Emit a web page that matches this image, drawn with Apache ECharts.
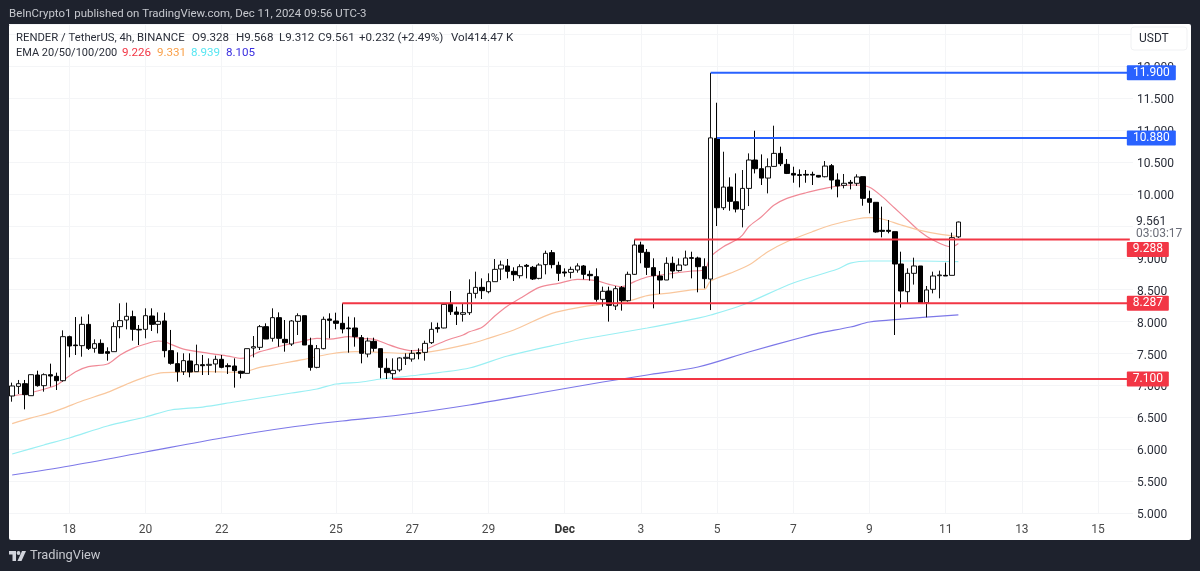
<!DOCTYPE html>
<html><head><meta charset="utf-8">
<style>html,body{margin:0;padding:0;background:#1e222d}#c{width:1200px;height:571px}</style>
<script src="https://cdn.jsdelivr.net/npm/echarts@6/dist/echarts.min.js"></script>
</head><body><div id="c"></div>
<script>
const opens=[6.834,6.985,7.027,6.839,7.163,6.996,7.168,7.142,7.074,7.764,
7.633,7.623,7.957,7.581,7.659,7.529,7.529,7.921,8.025,8.078,
7.879,7.879,8.088,7.957,8.01,7.545,7.341,7.215,7.383,7.215,
7.325,7.315,7.336,7.409,7.309,7.304,7.221,7.189,7.586,7.597,
7.921,7.738,8.062,7.722,7.649,8.004,8.093,7.628,7.283,7.576,
8.041,8.01,7.973,7.9,7.9,7.748,7.492,7.691,7.576,7.268,
7.184,7.242,7.424,7.414,7.513,7.518,7.67,7.905,7.9,8.271,
8.151,8.114,8.14,8.443,8.537,8.469,8.626,8.825,8.872,8.788,
8.72,8.882,8.851,8.678,8.893,9.081,8.882,8.778,8.772,8.809,
8.872,8.741,8.704,8.349,8.48,8.245,8.532,8.328,8.741,9.201,
9.086,8.846,8.715,8.652,8.914,8.799,8.887,9.002,8.997,8.861,
8.667,10.872,9.785,10.109,9.879,9.759,10.088,10.533,10.397,10.25,
10.433,10.637,10.465,10.323,10.303,10.308,10.308,10.292,10.271,10.444,
10.22,10.136,10.183,10.168,10.272,9.927,9.87,9.431,9.431,9.41,
8.903,8.469,8.757,8.872,8.297,8.506,8.72,8.725,8.725,9.328];
const closes=[6.991,7.027,6.855,7.168,6.996,7.168,7.147,7.074,7.764,7.618,
7.623,7.957,7.581,7.654,7.503,7.503,7.921,8.015,8.083,7.879,
7.869,8.093,7.957,8.004,7.545,7.346,7.215,7.388,7.21,7.325,
7.309,7.33,7.409,7.283,7.294,7.231,7.189,7.576,7.607,7.921,
7.727,8.062,7.738,7.67,8.01,8.093,7.633,7.283,7.576,8.036,
8.02,7.973,7.884,7.889,7.764,7.503,7.696,7.581,7.283,7.2,
7.236,7.43,7.44,7.503,7.497,7.659,7.879,7.889,8.271,8.156,
8.114,8.14,8.443,8.537,8.485,8.626,8.819,8.887,8.788,8.736,
8.861,8.866,8.668,8.887,9.07,8.893,8.757,8.762,8.819,8.872,
8.741,8.72,8.349,8.475,8.255,8.516,8.328,8.741,9.201,9.086,
8.851,8.72,8.652,8.914,8.793,8.887,8.997,8.992,8.861,8.673,
10.88,9.785,10.109,9.885,9.764,10.088,10.533,10.397,10.25,10.428,
10.637,10.475,10.323,10.297,10.292,10.297,10.297,10.266,10.438,10.219,
10.126,10.168,10.168,10.267,9.932,9.87,9.405,9.415,9.415,8.903,
8.48,8.757,8.872,8.292,8.496,8.715,8.731,8.715,9.316,9.561];
const lows=[6.745,6.865,6.625,6.839,6.98,6.902,6.98,6.928,7.059,7.44,
7.477,7.45,7.555,7.513,7.503,7.388,7.529,7.738,7.879,7.701,
7.633,7.738,7.853,7.816,7.44,7.325,7.059,7.163,7.127,7.215,
7.163,7.163,7.2,7.268,7.179,6.965,7.111,7.189,7.44,7.555,
7.727,7.686,7.607,7.529,7.618,7.79,7.633,7.231,7.268,7.565,
7.738,7.879,7.816,7.513,7.607,7.346,7.44,7.529,7.111,7.1,
7.095,7.215,7.32,7.372,7.409,7.388,7.649,7.827,7.895,8.104,
7.947,8.0,8.104,8.365,8.354,8.443,8.626,8.652,8.678,8.637,
8.678,8.678,8.652,8.663,8.741,8.835,8.637,8.704,8.678,8.767,
8.663,8.642,8.313,8.234,8.0,8.182,8.172,8.313,8.731,8.914,
8.731,8.208,8.433,8.652,8.678,8.783,8.877,8.678,8.459,8.522,
8.181,9.498,9.749,9.738,9.712,9.477,9.811,10.323,10.141,10.01,
10.428,10.438,10.313,10.177,10.104,10.177,10.141,10.261,10.261,10.073,
9.948,10.089,10.073,10.126,9.817,9.697,9.394,9.321,9.384,7.79,
8.219,8.286,8.58,8.287,8.067,8.443,8.365,8.715,8.725,9.312];
const highs=[7.043,7.085,7.085,7.168,7.231,7.189,7.341,7.2,7.863,7.78,
8.072,8.078,8.114,7.722,7.722,7.597,7.989,8.287,8.297,8.172,
7.947,8.208,8.208,8.145,8.14,7.869,7.518,7.503,7.503,7.639,
7.477,7.424,7.466,7.477,7.346,7.424,7.231,7.576,7.774,7.947,
7.973,8.208,8.145,8.025,8.025,8.13,8.093,7.748,7.633,8.078,
8.13,8.14,8.287,8.078,8.067,7.79,7.748,7.748,7.576,7.424,
7.424,7.44,7.503,7.555,7.581,7.701,7.989,7.983,8.287,8.48,
8.234,8.276,8.663,8.783,8.678,8.757,8.981,8.955,8.981,8.851,
8.898,8.903,8.872,8.914,9.112,9.122,8.94,8.835,8.861,8.914,
8.887,8.799,8.835,8.548,8.548,8.558,8.558,8.783,9.288,9.253,
9.138,8.992,8.793,9.008,9.018,8.992,9.112,9.096,9.018,8.992,
11.9,11.431,10.663,10.261,10.323,10.376,10.637,10.992,10.621,10.559,
11.071,10.742,10.548,10.428,10.386,10.376,10.35,10.297,10.517,10.47,
10.324,10.314,10.22,10.309,10.272,10.053,9.87,9.802,9.593,9.41,
9.096,8.835,9.002,8.872,8.558,8.783,8.799,8.924,9.394,9.568];

const ema20At=[0,2,5,7,8,10,12,15,17,19,21,23,24,25,27,31,34,36,37,39,40,43,45,48,50,53,55,57,59,61,63,65,67,69,71,72,74,76,78,80,83,86,89,92,94,96,98,100,103,107,109,110,112,114,115,116,118,120,122,125,128,130,133,135,137,139,141,143,145,147,148,149];
const ema20=[6.84,6.865,6.94,7.006,7.074,7.215,7.294,7.335,7.477,7.581,7.649,7.696,7.686,7.644,7.57,7.503,7.46,7.424,7.44,7.529,7.555,7.633,7.675,7.738,7.727,7.764,7.738,7.722,7.649,7.581,7.545,7.565,7.649,7.727,7.79,7.84,7.91,8.088,8.245,8.365,8.537,8.6,8.663,8.642,8.584,8.548,8.626,8.699,8.741,8.793,8.809,9.017,9.174,9.278,9.357,9.488,9.644,9.827,9.932,10.02,10.088,10.126,10.141,10.105,9.959,9.776,9.593,9.41,9.279,9.19,9.175,9.226];
const ema50At=[0,3,6,8,11,15,19,23,26,31,36,39,42,46,50,54,58,62,66,72,75,79,85,90,93,97,100,104,108,109,110,113,116,119,122,126,129,133,135,137,140,143,146,149];
const ema50=[6.4,6.49,6.57,6.64,6.756,6.89,7.06,7.19,7.205,7.215,7.205,7.283,7.336,7.408,7.492,7.529,7.518,7.503,7.529,7.65,7.738,7.868,8.13,8.234,8.276,8.323,8.407,8.454,8.506,8.505,8.636,8.756,8.887,9.096,9.252,9.409,9.514,9.608,9.63,9.608,9.514,9.43,9.37,9.331];
const ema100At=[0,5,9,15,21,25,30,35,39,44,48,51,55,58,64,72,78,87,90,100,108,110,115,123,130,132,135,143,149];
const ema100=[5.925,6.066,6.176,6.364,6.505,6.614,6.661,6.74,6.803,6.881,6.944,7.022,7.053,7.1,7.163,7.273,7.461,7.665,7.727,7.9,8.056,8.103,8.26,8.605,8.824,8.918,8.95,8.95,8.939];
const ema200At=[0,9,21,33,44,52,61,72,83,93,100,108,116,124,127,132,135,140,149];
const ema200=[5.596,5.737,5.956,6.176,6.348,6.442,6.536,6.693,6.881,7.053,7.163,7.288,7.524,7.743,7.82,7.915,7.994,8.04,8.105];

const levelValues=[11.9,10.88,9.288,8.287,7.1];
const levelFrom=[110,111,98,52,60];
const levelColors=['#2962ff','#2962ff','#f23645','#f23645','#f23645'];
const levelTagWidth=[49,49,42,42,42];
const levelTagShift=[0,0,10,0,0];

const tickIndex=[9,21,33,51,63,75,87,99,111,123,135,147,159,171];
const tickLabels=['18','20','22','25','27','29','Dec','3','5','7','9','11','13','15'];
const hiddenPriceLabels=[9.5,12.5];
const barCount=177;
const categories=[];
for(let i=0;i<barCount;i++)categories.push(new Date(Date.UTC(2024,10,16,12+4*i)).toISOString());

const candleData=opens.map((o,i)=>[o,closes[i],lows[i],highs[i]]);
const pairs=(at,v)=>at.map((x,i)=>[x,v[i]]);
const ema=(name,at,v,color)=>({name,type:'line',data:pairs(at,v),showSymbol:false,smooth:0.3,silent:true,z:3,lineStyle:{color,width:1.2}});

const FONT='Roboto, "Liberation Sans", Arial, sans-serif';
const txt=(x,y,text,fill,size)=>({type:'text',x,y,silent:true,z:50,style:{text,fill,font:size+'px '+FONT,verticalAlign:'middle'}});

const levelSeries=levelValues.map((v,i)=>({
  name:'L'+v,type:'line',showSymbol:false,silent:true,z:5,clip:true,
  data:[[levelFrom[i],v],[barCount-1,v]],
  lineStyle:{color:levelColors[i],width:2},
  endLabel:{show:true,formatter:()=>v.toFixed(3),color:'#fff',fontFamily:FONT,fontSize:12,
    backgroundColor:levelColors[i],width:levelTagWidth[i],height:15,lineHeight:15,align:'center',
    borderRadius:1,distance:0,offset:[levelTagWidth[i]/2-3,levelTagShift[i]]}
}));

const chart=echarts.init(document.getElementById('c'),null,{renderer:'canvas'});
chart.setOption({
  animation:false,
  backgroundColor:'#1e222d',
  grid:{left:9,top:24,width:1124,height:489,containLabel:false},
  xAxis:{type:'category',data:categories,boundaryGap:true,
    axisLine:{show:false},axisTick:{show:false},
    axisLabel:{interval:(i)=>tickIndex.includes(i),margin:11,color:'#4a4a4a',fontFamily:FONT,fontSize:12,
      formatter:(val,i)=>{const k=tickIndex.indexOf(i);if(k<0)return '';return tickLabels[k]==='Dec'?'{b|Dec}':tickLabels[k];},
      rich:{b:{fontWeight:'bold',color:'#333',fontFamily:FONT,fontSize:12}}},
    splitLine:{show:true,alignWithLabel:true,interval:(i)=>tickIndex.includes(i),lineStyle:{color:'#f4f5f7',width:1}}},
  yAxis:{type:'value',position:'right',min:5,max:12.665,interval:0.5,scale:true,
    axisLine:{show:false},axisTick:{show:false},
    axisLabel:{margin:4,color:'#2a2e39',fontFamily:FONT,fontSize:12,showMaxLabel:false,
      formatter:(v)=>hiddenPriceLabels.includes(v)||v>12.1?'':'{p|'+v.toFixed(3)+'}',
      rich:{p:{padding:[4,0,0,0],color:'#2a2e39',fontFamily:FONT,fontSize:12}}},
    splitLine:{lineStyle:{color:'#f4f5f7',width:1}}},
  series:[
    ema('EMA20',ema20At,ema20,'#f08a97'),
    ema('EMA50',ema50At,ema50,'#f9c79d'),
    ema('EMA100',ema100At,ema100,'#9aeff3'),
    ema('EMA200',ema200At,ema200,'#7d78e8'),
    {name:'RENDER',type:'candlestick',data:candleData,barWidth:5,silent:true,z:4,
      itemStyle:{color:'#ffffff',color0:'#000000',borderColor:'#111111',borderColor0:'#000000',borderWidth:1}},
    ...levelSeries
  ],
  graphic:{elements:[
    {type:'rect',silent:true,z:-100,shape:{x:9,y:24,width:1182,height:516,r:2},style:{fill:'#ffffff'}},
    txt(9,14,'BeInCrypto1 published on TradingView.com, Dec 11, 2024 09:56 UTC-3','#c6c8ce',11.45),
    txt(16,38,'RENDER / TetherUS, 4h, BINANCE','#2a2e39',11.3),
    txt(192,38,'O9.328','#2a2e39',11.6),
    txt(236,38,'H9.568','#2a2e39',11.6),
    txt(279,38,'L9.312','#2a2e39',11.6),
    txt(318,38,'C9.561','#2a2e39',11.6),
    txt(359,38,'+0.232 (+2.49%)','#2a2e39',11.6),
    txt(451,38,'Vol414.47 K','#2a2e39',11.6),
    txt(16,53,'EMA 20/50/100/200','#2a2e39',11),
    txt(122,53,'9.226','#f23645',11.6),
    txt(157,53,'9.331','#f9a04a',11.6),
    txt(191,53,'8.939','#58e6f2',11.6),
    txt(226,53,'8.105','#3a2ee0',11.6),
    {type:'rect',silent:true,z:40,shape:{x:1131,y:27,width:56,height:23,r:3},style:{fill:'#fff',stroke:'#f0f1f3',lineWidth:1}},
    txt(1139,39,'USDT','#2a2e39',12),
    txt(1136,222,'9.561','#2a2e39',12),
    txt(1136,234,'03:03:17','#6a6d78',12),
    {type:'polygon',silent:true,z:50,shape:{points:[[9,551],[16,551],[16,561],[12.5,561],[12.5,554.5],[9,554.5]]},style:{fill:'#d1d4dc'}},
    {type:'circle',silent:true,z:50,shape:{cx:18.5,cy:553,r:1.9},style:{fill:'#d1d4dc'}},
    {type:'polygon',silent:true,z:50,shape:{points:[[22,551],[26,551],[21.5,561],[17.5,561]]},style:{fill:'#d1d4dc'}},
    txt(30,556,'TradingView','#c6c8ce',12.8)
  ]}
});
</script></body></html>
